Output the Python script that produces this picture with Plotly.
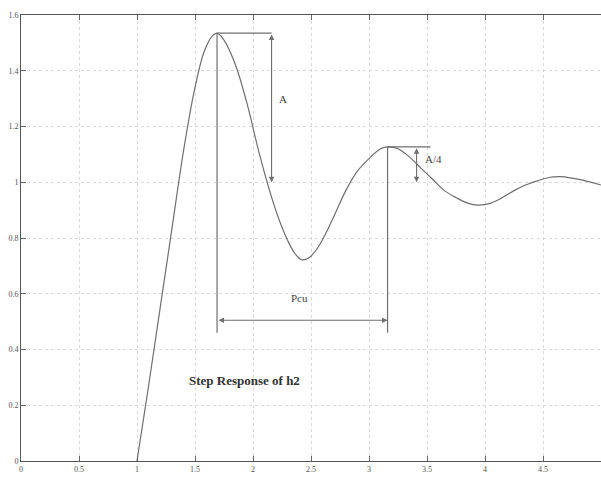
import plotly.graph_objects as go

# Step response samples
t = [1.0, 1.1, 1.2, 1.3, 1.4, 1.5, 1.58, 1.65, 1.69, 1.75, 1.85, 1.95, 2.05, 2.15,
     2.23, 2.3, 2.36, 2.42, 2.48, 2.55, 2.62, 2.7, 2.8, 2.9, 3.0, 3.1, 3.16, 3.25, 3.35,
     3.45, 3.55, 3.65, 3.75, 3.85, 3.94, 4.05, 4.15, 4.25, 4.35, 4.45, 4.55, 4.65, 4.75,
     4.85, 5.0]
y = [0, 0.27, 0.55, 0.83, 1.11, 1.34, 1.47, 1.525, 1.535, 1.51, 1.42, 1.28, 1.11, 0.96,
     0.86, 0.79, 0.745, 0.722, 0.728, 0.76, 0.81, 0.88, 0.97, 1.04, 1.085, 1.12, 1.127, 1.12,
     1.09, 1.05, 1.01, 0.97, 0.945, 0.925, 0.918, 0.925, 0.945, 0.97, 0.99, 1.005, 1.017,
     1.02, 1.015, 1.007, 0.99]

x_ticks = [0, 0.5, 1, 1.5, 2, 2.5, 3, 3.5, 4, 4.5, 5]
x_tick_labels = ["0", "0.5", "1", "1.5", "2", "2.5", "3", "3.5", "4", "4.5", "5"]
y_ticks = [0, 0.2, 0.4, 0.6, 0.8, 1, 1.2, 1.4, 1.6]
y_tick_labels = ["0", "0.2", "0.4", "0.6", "0.8", "1", "1.2", "1.4", "1.6"]

# Annotation reference values
peak1_t, peak1_y = 1.69, 1.535
peak2_t, peak2_y = 3.16, 1.127
final_y = 1.0
a_arrow_t = 2.16
a4_arrow_t = 3.41
a4_line_end = 3.53
pcu_y = 0.505
drop_y = 0.46
title_text = "Step Response of h2"

line_col = "#6f6f6f"
txt_col = "#555555"

fig = go.Figure()
fig.add_trace(go.Scatter(x=t, y=y, mode="lines",
                         line=dict(color=line_col, width=1.2, shape="spline", smoothing=1.0),
                         showlegend=False, hoverinfo="skip"))

shapes = [
    dict(type="line", x0=peak1_t, x1=a_arrow_t, y0=peak1_y, y1=peak1_y),
    dict(type="line", x0=peak1_t, x1=peak1_t, y0=peak1_y, y1=drop_y),
    dict(type="line", x0=peak2_t, x1=a4_line_end, y0=peak2_y, y1=peak2_y),
    dict(type="line", x0=peak2_t, x1=peak2_t, y0=peak2_y, y1=drop_y),
]
for s in shapes:
    s.update(xref="x", yref="y", line=dict(color=line_col, width=1.2))
fig.update_layout(shapes=shapes)

def dbl_arrow(x0, y0, x1, y1):
    fig.add_annotation(x=x1, y=y1, ax=x0, ay=y0, xref="x", yref="y", axref="x", ayref="y",
                       showarrow=True, arrowhead=2, arrowside="end+start", arrowsize=1,
                       arrowwidth=1.1, arrowcolor=line_col, text="")

dbl_arrow(a_arrow_t, peak1_y, a_arrow_t, final_y)
dbl_arrow(a4_arrow_t, peak2_y, a4_arrow_t, final_y)
dbl_arrow(peak1_t, pcu_y, peak2_t, pcu_y)

font_ann = dict(family="Liberation Serif", size=11, color="#444444")
fig.add_annotation(x=a_arrow_t + 0.1, y=1.30, text="A", showarrow=False, font=font_ann)
fig.add_annotation(x=a4_arrow_t + 0.15, y=1.085, text="A/4", showarrow=False, font=font_ann)
fig.add_annotation(x=(peak1_t + peak2_t) / 2 - 0.02, y=0.585, text="Pcu", showarrow=False, font=font_ann)
fig.add_annotation(x=1.93, y=0.29, text="<b>" + title_text + "</b>", showarrow=False,
                   font=dict(family="Liberation Serif", size=13, color="#333333"))

tick_font = dict(family="Liberation Serif", size=8, color=txt_col)
fig.update_xaxes(range=[0, 5], tickvals=x_ticks, ticktext=x_tick_labels, ticks="inside",
                 ticklen=5, tickcolor="#666", showline=True, linecolor="#555", linewidth=1,
                 mirror="ticks", showgrid=True, gridcolor="#d9d9d9", griddash="dot",
                 zeroline=False, tickfont=tick_font, automargin=False)
fig.update_yaxes(range=[0, 1.6], tickvals=y_ticks, ticktext=y_tick_labels, ticks="inside",
                 ticklen=5, tickcolor="#666", showline=True, linecolor="#555", linewidth=1,
                 mirror=False, showgrid=True, gridcolor="#d9d9d9", griddash="dot",
                 zeroline=False, tickfont=tick_font, automargin=False)

fig.update_layout(width=601, height=480, margin=dict(l=21, r=0, t=15, b=19),
                  paper_bgcolor="white", plot_bgcolor="white")
fig.write_html("out.html", config={"displayModeBar": False},
               post_script="document.body.style.margin='0';document.body.style.overflow='hidden';")
